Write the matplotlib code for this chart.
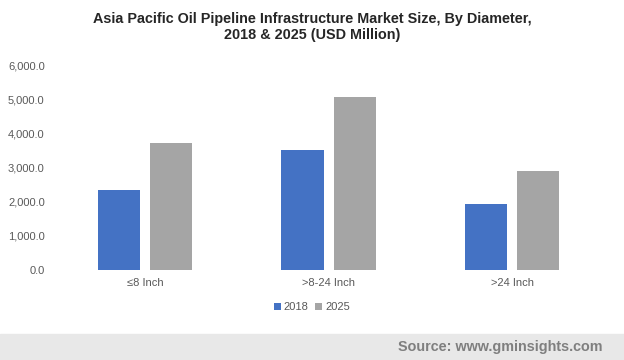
import matplotlib
matplotlib.use("Agg")
import matplotlib.pyplot as plt
import numpy as np

plt.rcParams['font.family'] = ['Liberation Sans', 'DejaVu Sans']

categories = ["≤8 Inch", ">8-24 Inch", ">24 Inch"]
series_names = ["2018", "2025"]
values_2018 = [2340, 3510, 1940]
values_2025 = [3725, 5070, 2900]
yticks = [0, 1000, 2000, 3000, 4000, 5000, 6000]

fig = plt.figure(figsize=(6.24, 3.6), dpi=100)
ax = fig.add_axes([0.085, 0.25, 0.883, 0.5694])

x = np.arange(len(categories))
w = 0.229
off = 0.1417
b1 = ax.bar(x - off, values_2018, w, color="#4472C4", label=series_names[0])
b2 = ax.bar(x + off, values_2025, w, color="#A5A5A5", label=series_names[1])

ax.set_xlim(-0.5, len(categories) - 0.5)
ax.set_ylim(0, 6000)
ax.set_yticks(yticks)
ax.set_yticklabels([f"{v:,.1f}" for v in yticks], fontsize=8, color="#595959")
ax.set_xticks(x)
ax.set_xticklabels(categories, fontsize=8, color="#595959")
ax.tick_params(axis='both', length=0, pad=6)
for s in ax.spines.values():
    s.set_visible(False)

fig.text(0.5, 0.968, "Asia Pacific Oil Pipeline Infrastructure Market Size, By Diameter,\n2018 & 2025 (USD Million)",
         ha="center", va="top", fontsize=10.4, fontweight="bold", color="#262626", linespacing=1.2)

leg = fig.legend(handles=[b1, b2], labels=series_names, loc="center", bbox_to_anchor=(0.5, 0.147),
                 ncol=2, frameon=False, fontsize=8, handlelength=0.6, handleheight=0.6,
                 handletextpad=0.3, columnspacing=0.6)
for t in leg.get_texts():
    t.set_color("#595959")

fig.patches.append(plt.Rectangle((0, 0), 1, 26/360, transform=fig.transFigure, color="#E8E8E8", zorder=0))
fig.text(0.965, 0.036, "Source: www.gminsights.com", ha="right", va="center",
         fontsize=10.4, fontweight="bold", color="#7F7F7F")

fig.savefig("out.png", dpi=100)
